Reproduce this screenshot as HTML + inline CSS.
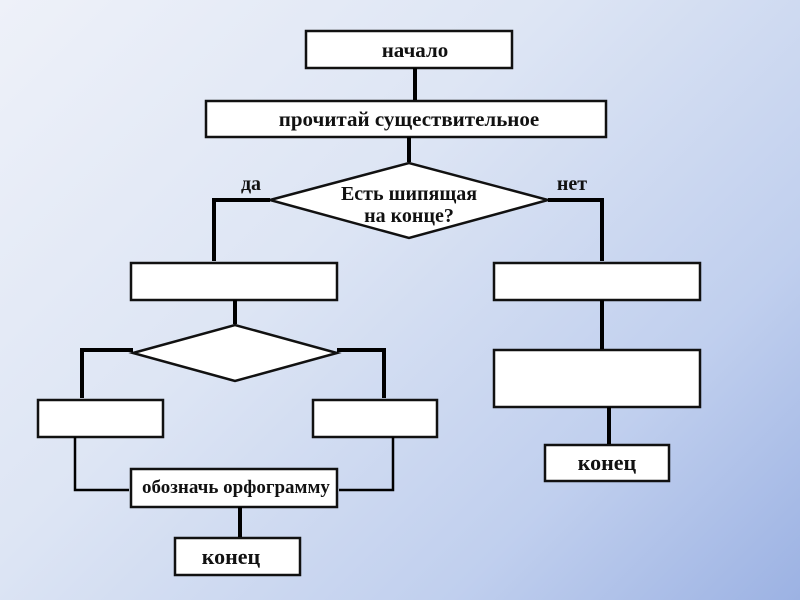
<!DOCTYPE html>
<html><head><meta charset="utf-8"><style>
html,body{margin:0;padding:0;width:800px;height:600px;overflow:hidden}
body{background:linear-gradient(135deg,#eef1f9 0%,#dde5f4 40%,#c0cfee 75%,#9cb2e3 100%)}
text{font-family:"Liberation Serif",serif;font-weight:bold;fill:#111}
</style></head><body>
<svg width="800" height="600" viewBox="0 0 800 600">
<g fill="#fff" stroke="#111" stroke-width="2.5">
<rect x="306" y="31" width="206" height="37"/>
<rect x="206" y="101" width="400" height="36"/>
<polygon points="270,200 409,163 548,200 409,238"/>
<rect x="131" y="263" width="206" height="37"/>
<rect x="494" y="263" width="206" height="37"/>
<polygon points="133,353 235,325 337,353 235,381"/>
<rect x="38" y="400" width="125" height="37"/>
<rect x="313" y="400" width="124" height="37"/>
<rect x="131" y="469" width="206" height="38"/>
<rect x="175" y="538" width="125" height="37"/>
<rect x="494" y="350" width="206" height="57"/>
<rect x="545" y="445" width="124" height="36"/>
</g>
<g fill="none" stroke="#000" stroke-width="4">
<path d="M415,68 V100"/>
<path d="M409,137 V162"/>
<path d="M270,200 H214 V261"/>
<path d="M548,200 H602 V261"/>
<path d="M235,300 V324"/>
<path d="M133,350 H82 V398"/>
<path d="M337,350 H384 V398"/>
<path d="M240,507 V537"/>
<path d="M602,300 V349"/>
<path d="M609,407 V444"/>
</g>
<g fill="none" stroke="#000" stroke-width="2.5">
<path d="M75,437 V490 H129"/>
<path d="M393,437 V490 H339"/>
</g>
<text x="415" y="57" font-size="21" text-anchor="middle">начало</text>
<text x="409" y="126" font-size="21" text-anchor="middle">прочитай существительное</text>
<text x="409" y="200" font-size="20" text-anchor="middle">Есть шипящая</text>
<text x="409" y="222" font-size="20" text-anchor="middle">на конце?</text>
<text x="251" y="190" font-size="20" text-anchor="middle">да</text>
<text x="572" y="190" font-size="20" text-anchor="middle">нет</text>
<text x="236" y="493" font-size="19" text-anchor="middle">обозначь орфограмму</text>
<text x="231" y="564" font-size="22" text-anchor="middle">конец</text>
<text x="607" y="470" font-size="22" text-anchor="middle">конец</text>
</svg>
</body></html>
